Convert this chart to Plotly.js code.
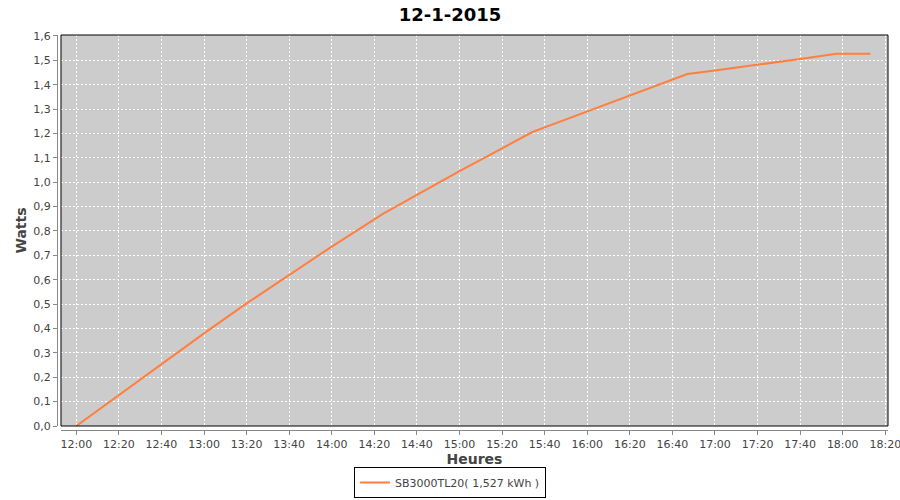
<!DOCTYPE html>
<html>
<head>
<meta charset="utf-8">
<script src="https://cdn.plot.ly/plotly-3.0.1.min.js"></script>
<style>html,body{margin:0;padding:0;background:#fff;}#chart{width:900px;height:500px;}</style>
</head>
<body>
<div id="chart"></div>
<script>
var day = '2015-01-12 ';
var times = ['12:00','12:20','12:40','13:00','13:20','13:40','14:00','14:20','14:24','14:40','15:00','15:20','15:34','15:40','16:00','16:20','16:40','16:47','17:00','17:20','17:40','17:57','18:00','18:13'];
var watts = [0, 0.127, 0.254, 0.38, 0.503, 0.62, 0.736, 0.848, 0.87, 0.948, 1.046, 1.139, 1.205, 1.225, 1.29, 1.358, 1.42, 1.444, 1.458, 1.481, 1.506, 1.527, 1.527, 1.527];
var seriesName = 'SB3000TL20( 1,527 kWh )';
var chartTitle = '12-1-2015';

var trace = {
  x: times.map(function(t){ return day + t; }),
  y: watts,
  type: 'scatter',
  mode: 'lines',
  name: seriesName,
  line: {color: '#ff7f3f', width: 2}
};

var font = 'DejaVu Sans, Verdana, sans-serif';
var layout = {
  width: 900, height: 500,
  margin: {l: 57, r: 12, t: 35, b: 70, autoexpand: false},
  paper_bgcolor: '#ffffff',
  plot_bgcolor: '#cccccc',
  separators: ', ',
  showlegend: true,
  title: {text: '<b>' + chartTitle + '</b>', font: {family: font, size: 18, color: '#000'}, x: 0.5, xanchor: 'center', y: 0.97, yanchor: 'middle', automargin: false},
  xaxis: {
    type: 'date',
    domain: [0.0048, 1],
    anchor: 'free', position: 0,
    range: [day + '11:52:49', day + '18:21:16'],
    tick0: day + '12:00', dtick: 1200000,
    tickformat: '%H:%M',
    ticks: 'outside', ticklen: 4, tickcolor: '#888',
    ticklabeloverflow: 'allow',
    showline: true, linecolor: '#888', linewidth: 1,
    showgrid: true, gridcolor: '#ffffff', gridwidth: 1, griddash: '2px,2px',
    zeroline: false, automargin: false,
    tickfont: {family: font, size: 11, color: '#444'},
    title: {text: '<b>Heures</b>', font: {family: font, size: 14, color: '#444'}, standoff: 5}
  },
  yaxis: {
    domain: [0.0101, 1],
    anchor: 'free', position: 0,
    range: [0, 1.604],
    tick0: 0, dtick: 0.1,
    tickformat: '.1f',
    ticks: 'outside', ticklen: 4, tickcolor: '#888',
    ticklabeloverflow: 'allow',
    showline: true, linecolor: '#888', linewidth: 1,
    showgrid: true, gridcolor: '#ffffff', gridwidth: 1, griddash: '2px,2px',
    zeroline: false, automargin: false,
    tickfont: {family: font, size: 11, color: '#444'},
    title: {text: '<b>Watts</b>', font: {family: font, size: 14, color: '#444'}, standoff: 2}
  },
  legend: {
    orientation: 'h', x: 0.5, xanchor: 'center', xref: 'container',
    y: 0.004, yanchor: 'bottom', yref: 'container',
    bordercolor: '#000', borderwidth: 1, bgcolor: '#fff',
    font: {family: font, size: 11, color: '#444'},
    itemwidth: 30
  },
  shapes: [{
    type: 'rect', xref: 'x domain', yref: 'y domain', x0: 0, x1: 1, y0: 0, y1: 1,
    line: {color: '#000', width: 1}, fillcolor: 'rgba(0,0,0,0)', layer: 'above'
  }]
};

Plotly.newPlot('chart', [trace], layout, {displayModeBar: false, staticPlot: true});
</script>
</body>
</html>
